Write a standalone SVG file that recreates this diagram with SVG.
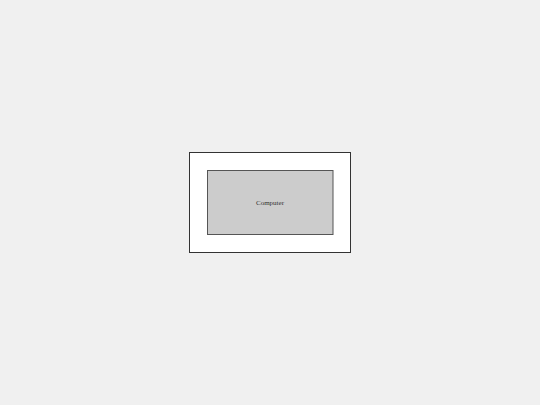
<svg xmlns="http://www.w3.org/2000/svg" width="540" height="405" viewBox="0 0 540 405">
<style>
.outer{fill:#ffffff;stroke:#333333;stroke-width:1}
.inner{fill:#cccccc;stroke:#555555;stroke-width:1}
.lbl{font-family:"Liberation Serif",serif;font-size:7px;fill:#333333;text-anchor:middle;dominant-baseline:central}
</style>
<rect width="540" height="405" fill="#f0f0f0"/>
<g id="container">
<rect class="outer" x="189.5" y="152.5" width="161" height="100"/>
</g>
<g id="computer">
<rect class="inner" x="207.5" y="170.5" width="125.5" height="64"/>
<text class="lbl" x="270" y="202.5">Computer</text>
</g>
<g id="connectors"></g>
</svg>
